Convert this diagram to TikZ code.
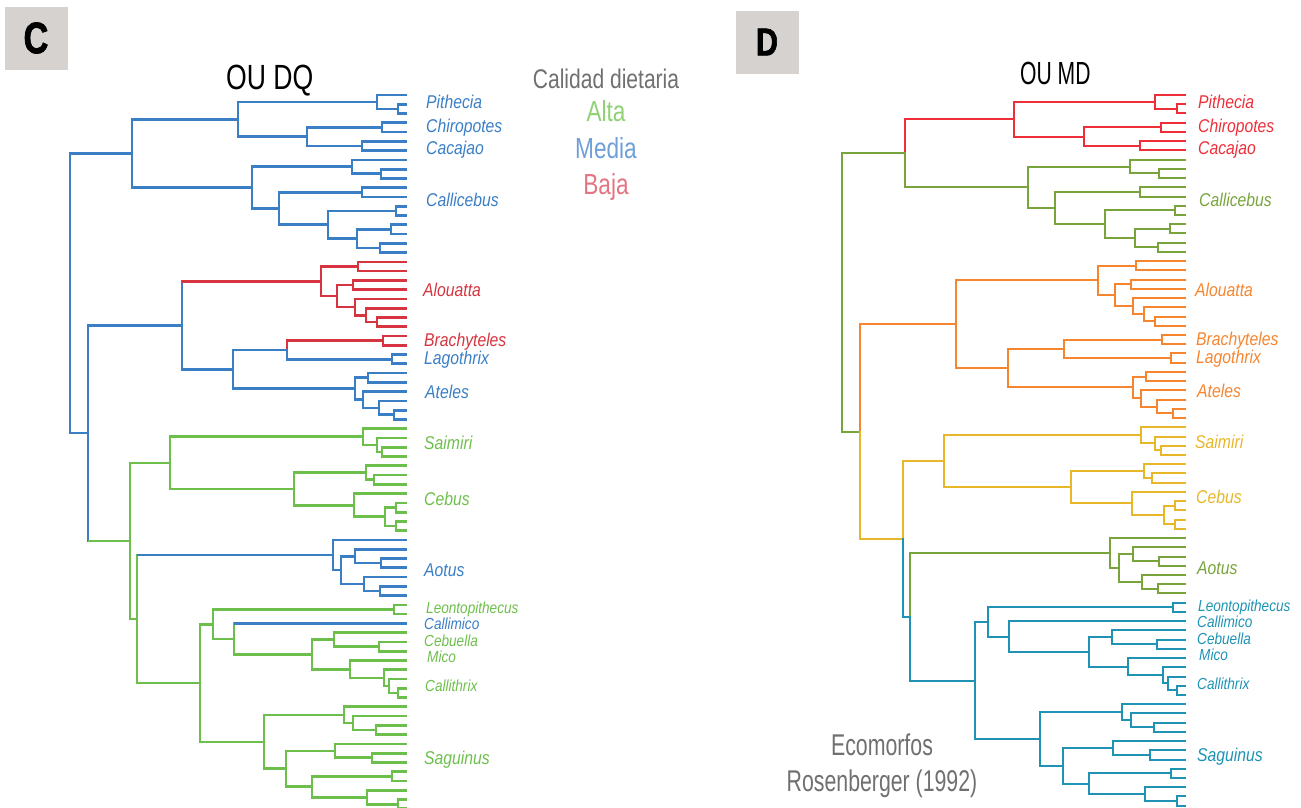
\documentclass[tikz,border=0pt]{standalone}
\usepackage{fontspec}
\setmainfont{Liberation Sans}
\newfontfamily\fTitle{Liberation Sans}[FakeStretch=0.76]
\newfontfamily\fTitleB{Liberation Sans}[FakeStretch=0.66]
\newfontfamily\fLeg{Liberation Sans}[FakeStretch=0.78]
\newfontfamily\fEco{Liberation Sans}[FakeStretch=0.71]
\newfontfamily\fLab{Liberation Sans}[FakeStretch=0.85]
\newfontfamily\fBox{Liberation Sans}[FakeStretch=0.78,FakeBold=1.6]
\definecolor{cB}{HTML}{3A7EC5}
\definecolor{cR}{HTML}{D6343F}
\definecolor{cG}{HTML}{6DBF4B}
\definecolor{dR}{HTML}{EE2F3A}
\definecolor{dG}{HTML}{78A43B}
\definecolor{dO}{HTML}{F6852F}
\definecolor{dY}{HTML}{E8B629}
\definecolor{dT}{HTML}{1E93B4}
\definecolor{lgAlta}{HTML}{8FD174}
\definecolor{lgMedia}{HTML}{6E9FD8}
\definecolor{lgBaja}{HTML}{E27582}
\definecolor{lgGray}{HTML}{707070}
\definecolor{boxGray}{HTML}{D5D2D0}

\newcommand\tpfx{C-}
\newcommand\trXO{70}
\newcommand\trXS{1}
\newcommand\trYS{9.27}
\newcommand\nd[3]{\coordinate (\tpfx#1) at ({\trXO+(#2-70)*\trXS},{95+(#3-1)*\trYS});}
% edge: vertical colour, horizontal colour, parent, child
\newcommand\ed[4]{%
  \draw[br,color=#1,line cap=rect] (\tpfx#3) -- (\tpfx#3 |- \tpfx#4);%
  \draw[br,color=#2] (\tpfx#3 |- \tpfx#4) -- (\tpfx#4);}
\newcommand\ee[3]{\ed{#1}{#1}{#2}{#3}}
\newcommand\pp[4]{\ee{#1}{#2}{#3}\ee{#1}{#2}{#4}}

\newcommand\drawtree{%
  \foreach \i in {1,...,78}{\nd{t\i}{407}{\i}}
  \nd{npith1}{398}{2.5}
  \nd{npith}{377}{1.75}
  \nd{nchir}{382}{4.5}
  \nd{ncaca}{362}{6.5}
  \nd{ncc}{307}{5.5}
  \nd{npc}{238}{3.625}
  \nd{ncalA}{381}{9.5}
  \nd{ncalB}{352}{8.75}
  \nd{ncalC}{362}{11.5}
  \nd{ncalD}{396}{13.5}
  \nd{ncalE}{391}{15.5}
  \nd{ncalF}{380}{17.5}
  \nd{ncalG}{357}{16.5}
  \nd{ncalH}{328}{15}
  \nd{ncalI}{279}{13.25}
  \nd{ncal}{252}{11}
  \nd{npithec}{132}{7.3125}
  \nd{nroot}{70}{22.394}
  \nd{nalA}{358}{19.5}
  \nd{nalB}{353}{21.5}
  \nd{nalC}{377}{25.5}
  \nd{nalD}{366}{24.75}
  \nd{nalE}{355}{23.875}
  \nd{nalF}{337}{22.6875}
  \nd{nal}{321}{21.09375}
  \nd{nbr}{383}{27.5}
  \nd{nla}{392}{29.5}
  \nd{nbl}{287}{28.5}
  \nd{natA}{368}{31.5}
  \nd{natB}{394}{35.5}
  \nd{natC}{379}{34.75}
  \nd{natD}{363}{33.875}
  \nd{nat}{355}{32.6875}
  \nd{nbla}{233}{30.59375}
  \nd{natel}{182}{25.84375}
  \nd{nrest}{88}{37.476}
  \nd{nsaA}{382}{39.5}
  \nd{nsaB}{377}{38.75}
  \nd{nsa}{363}{37.875}
  \nd{nceA}{374}{42.5}
  \nd{nceB}{366}{41.75}
  \nd{nceC}{396}{45.5}
  \nd{nceD}{396}{47.5}
  \nd{nceE}{385}{46.5}
  \nd{nceF}{354}{45.25}
  \nd{nce}{294}{43.5}
  \nd{nsc}{170}{40.6875}
  \nd{ncebid}{130}{49.1084}
  \nd{naoA}{381}{51.5}
  \nd{naoB}{355}{50.75}
  \nd{naoC}{380}{54.5}
  \nd{naoD}{364}{53.75}
  \nd{naoE}{341}{52.25}
  \nd{nao}{333}{50.625}
  \nd{naocal}{137}{57.5293}
  \nd{nle}{394}{56.5}
  \nd{ncbA}{379}{60.5}
  \nd{ncb}{334}{59.75}
  \nd{nmiA}{398}{65.5}
  \nd{nmiB}{389}{64.75}
  \nd{nmiC}{384}{63.875}
  \nd{nmi}{350}{62.9375}
  \nd{ncm}{312}{61.34375}
  \nd{nccB}{234}{59.671875}
  \nd{nlc}{213}{58.0859}
  \nd{nsgA}{376}{69.5}
  \nd{nsgB}{353}{68.75}
  \nd{nsgC}{344}{67.875}
  \nd{nsgD}{372}{72.5}
  \nd{nsgE}{335}{71.75}
  \nd{nsgG}{392}{74.5}
  \nd{nsgH}{398}{77.5}
  \nd{nsgI}{367}{76.75}
  \nd{nsgJ}{312}{75.625}
  \nd{nsgK}{286}{73.6875}
  \nd{nsg}{264}{70.78125}
  \nd{ncallitr}{200}{64.4336}
  % Pitheciinae
  \pp\kPC{npith1}{t2}{t3}
  \pp\kPC{npith}{t1}{npith1}
  \pp\kPC{nchir}{t4}{t5}
  \pp\kPC{ncaca}{t6}{t7}
  \pp\kPC{ncc}{nchir}{ncaca}
  \pp\kPC{npc}{npith}{ncc}
  % Callicebus
  \pp\kCal{ncalA}{t9}{t10}
  \pp\kCal{ncalB}{t8}{ncalA}
  \pp\kCal{ncalC}{t11}{t12}
  \pp\kCal{ncalD}{t13}{t14}
  \pp\kCal{ncalE}{t15}{t16}
  \pp\kCal{ncalF}{t17}{t18}
  \pp\kCal{ncalG}{ncalE}{ncalF}
  \pp\kCal{ncalH}{ncalD}{ncalG}
  \pp\kCal{ncalI}{ncalC}{ncalH}
  \pp\kCal{ncal}{ncalB}{ncalI}
  \ee\kPC{npithec}{npc}
  \ee\kCal{npithec}{ncal}
  \pp\kRoot{nroot}{npithec}{nrest}
  % Atelidae
  \pp\kAl{nalA}{t19}{t20}
  \pp\kAl{nalB}{t21}{t22}
  \pp\kAl{nalC}{t25}{t26}
  \pp\kAl{nalD}{t24}{nalC}
  \pp\kAl{nalE}{t23}{nalD}
  \pp\kAl{nalF}{nalB}{nalE}
  \pp\kAl{nal}{nalA}{nalF}
  \pp\kBr{nbr}{t27}{t28}
  \pp\kAt{nla}{t29}{t30}
  \ee\kBr{nbl}{nbr}
  \ee\kAt{nbl}{nla}
  \pp\kAt{natA}{t31}{t32}
  \pp\kAt{natB}{t35}{t36}
  \pp\kAt{natC}{t34}{natB}
  \pp\kAt{natD}{t33}{natC}
  \pp\kAt{nat}{natA}{natD}
  \pp\kAt{nbla}{nbl}{nat}
  \ed\kAlV\kAl{natel}{nal}
  \ee\kAt{natel}{nbla}
  \ee\kAt{nrest}{natel}
  \ed\kCebV\kCeb{nrest}{ncebid}
  % Saimiri, Cebus
  \pp\kSC{nsaA}{t39}{t40}
  \pp\kSC{nsaB}{t38}{nsaA}
  \pp\kSC{nsa}{t37}{nsaB}
  \pp\kSC{nceA}{t42}{t43}
  \pp\kSC{nceB}{t41}{nceA}
  \pp\kSC{nceC}{t45}{t46}
  \pp\kSC{nceD}{t47}{t48}
  \pp\kSC{nceE}{nceC}{nceD}
  \pp\kSC{nceF}{t44}{nceE}
  \pp\kSC{nce}{nceB}{nceF}
  \pp\kSC{nsc}{nsa}{nce}
  \ee\kSC{ncebid}{nsc}
  \ee\kAC{ncebid}{naocal}
  % Aotus
  \pp\kAo{naoA}{t51}{t52}
  \pp\kAo{naoB}{t50}{naoA}
  \pp\kAo{naoC}{t54}{t55}
  \pp\kAo{naoD}{t53}{naoC}
  \pp\kAo{naoE}{naoB}{naoD}
  \pp\kAo{nao}{t49}{naoE}
  \ed\kAoV\kAo{naocal}{nao}
  \ee\kCT{naocal}{ncallitr}
  % Callitrichidae
  \pp\kCT{nle}{t56}{t57}
  \pp\kCT{ncbA}{t60}{t61}
  \pp\kCT{ncb}{t59}{ncbA}
  \pp\kCT{nmiA}{t65}{t66}
  \pp\kCT{nmiB}{t64}{nmiA}
  \pp\kCT{nmiC}{t63}{nmiB}
  \pp\kCT{nmi}{t62}{nmiC}
  \pp\kCT{ncm}{ncb}{nmi}
  \ed\kCT\kCmH{nccB}{t58}
  \ee\kCT{nccB}{ncm}
  \pp\kCT{nlc}{nle}{nccB}
  \pp\kCT{nsgA}{t69}{t70}
  \pp\kCT{nsgB}{t68}{nsgA}
  \pp\kCT{nsgC}{t67}{nsgB}
  \pp\kCT{nsgD}{t72}{t73}
  \pp\kCT{nsgE}{t71}{nsgD}
  \pp\kCT{nsgG}{t74}{t75}
  \pp\kCT{nsgH}{t77}{t78}
  \pp\kCT{nsgI}{t76}{nsgH}
  \pp\kCT{nsgJ}{nsgG}{nsgI}
  \pp\kCT{nsgK}{nsgE}{nsgJ}
  \pp\kCT{nsg}{nsgC}{nsgK}
  \pp\kCT{ncallitr}{nlc}{nsg}
}

\tikzset{
  lab/.style={anchor=base west,inner sep=0pt,font=\fLab\itshape\fontsize{18.5}{20}\selectfont},
  labs/.style={anchor=base west,inner sep=0pt,font=\fLab\itshape\fontsize{16}{18}\selectfont},
  panelbox/.style={fill=boxGray,minimum width=63pt,minimum height=63pt,inner sep=0pt,text=black},
}

\begin{document}
\begin{tikzpicture}[x=1pt,y=-1pt]
\useasboundingbox (0,0) rectangle (1301,807);

% ---------- Panel C ----------
\node[panelbox,font=\fBox\bfseries\fontsize{44}{44}\selectfont] (boxC) at (36,38) {C};
\node[anchor=base west,inner sep=0pt,font=\fTitle\fontsize{35}{36}\selectfont] (titC) at (226,89) {OU DQ};
\node[anchor=base,inner sep=0pt,text=lgGray,font=\fLeg\fontsize{27}{28}\selectfont] (legT) at (606,88) {Calidad dietaria};
\node[anchor=base,inner sep=0pt,text=lgAlta,font=\fLeg\fontsize{29}{30}\selectfont] (legA) at (606,121) {Alta};
\node[anchor=base,inner sep=0pt,text=lgMedia,font=\fLeg\fontsize{29}{30}\selectfont] (legM) at (606,158) {Media};
\node[anchor=base,inner sep=0pt,text=lgBaja,font=\fLeg\fontsize{29}{30}\selectfont] (legB) at (606,194) {Baja};

\begin{scope}[br/.style={line width=2.7pt}]
  \renewcommand\tpfx{C-}\renewcommand\trXO{70}\renewcommand\trXS{1}\renewcommand\trYS{9.27}
  \def\kPC{cB}\def\kCal{cB}\def\kRoot{cB}\def\kAlV{cB}\def\kAl{cR}\def\kBr{cR}\def\kAt{cB}
  \def\kCebV{cB}\def\kCeb{cG}\def\kSC{cG}\def\kAC{cG}\def\kAoV{cG}\def\kAo{cB}\def\kCT{cG}\def\kCmH{cB}
  \drawtree
\end{scope}

\node[lab,text=cB] (cPit) at (426,108.4) {Pithecia};
\node[lab,text=cB] (cChi) at (426,132.9) {Chiropotes};
\node[lab,text=cB] (cCac) at (426,154.3) {Cacajao};
\node[lab,text=cB] (cCal) at (426,206.5) {Callicebus};
\node[lab,text=cR] (cAlo) at (423,296.9) {Alouatta};
\node[lab,text=cR] (cBra) at (424,346.8) {Brachyteles};
\node[lab,text=cB] (cLag) at (424,364.5) {Lagothrix};
\node[lab,text=cB] (cAte) at (425,398.6) {Ateles};
\node[lab,text=cG] (cSai) at (424,449.8) {Saimiri};
\node[lab,text=cG] (cCeb) at (424,505.1) {Cebus};
\node[lab,text=cB] (cAot) at (424,576.1) {Aotus};
\node[labs,text=cG] (cLeo) at (426,613.9) {Leontopithecus};
\node[labs,text=cB] (cCmi) at (424,629.6) {Callimico};
\node[labs,text=cG] (cCbu) at (424,646.4) {Cebuella};
\node[labs,text=cG] (cMic) at (427,662.4) {Mico};
\node[labs,text=cG] (cCth) at (425,691.9) {Callithrix};
\node[lab,text=cG] (cSag) at (424,764.6) {Saguinus};

% ---------- Panel D ----------
\node[panelbox,font=\fBox\bfseries\fontsize{39}{39}\selectfont] (boxD) at (767,42) {D};
\node[anchor=base west,inner sep=0pt,font=\fTitleB\fontsize{32}{33}\selectfont] (titD) at (1020,84) {OU MD};
\node[anchor=base,inner sep=0pt,text=lgGray,font=\fEco\fontsize{30}{31}\selectfont] (eco1) at (882,755) {Ecomorfos};
\node[anchor=base,inner sep=0pt,text=lgGray,font=\fEco\fontsize{30}{31}\selectfont] (eco2) at (882,791) {Rosenberger (1992)};

\begin{scope}[br/.style={line width=2pt}]
  \renewcommand\tpfx{D-}\renewcommand\trXO{842}\renewcommand\trXS{1.0208}\renewcommand\trYS{9.23}
  \def\kPC{dR}\def\kCal{dG}\def\kRoot{dG}\def\kAlV{dO}\def\kAl{dO}\def\kBr{dO}\def\kAt{dO}
  \def\kCebV{dY}\def\kCeb{dY}\def\kSC{dY}\def\kAC{dT}\def\kAoV{dG}\def\kAo{dG}\def\kCT{dT}\def\kCmH{dT}
  \drawtree
\end{scope}

\node[lab,text=dR] (dPit) at (1198,108.3) {Pithecia};
\node[lab,text=dR] (dChi) at (1198,132.7) {Chiropotes};
\node[lab,text=dR] (dCac) at (1198,154) {Cacajao};
\node[lab,text=dG] (dCal) at (1199,206) {Callicebus};
\node[lab,text=dO] (dAlo) at (1195,296) {Alouatta};
\node[lab,text=dO] (dBra) at (1196,345.7) {Brachyteles};
\node[lab,text=dO] (dLag) at (1196,363.3) {Lagothrix};
\node[lab,text=dO] (dAte) at (1197,397.3) {Ateles};
\node[lab,text=dY] (dSai) at (1195,448.3) {Saimiri};
\node[lab,text=dY] (dCeb) at (1196,503.3) {Cebus};
\node[lab,text=dG] (dAot) at (1197,574) {Aotus};
\node[labs,text=dT] (dLeo) at (1198,611.7) {Leontopithecus};
\node[labs,text=dT] (dCmi) at (1197,627.3) {Callimico};
\node[labs,text=dT] (dCbu) at (1197,644) {Cebuella};
\node[labs,text=dT] (dMic) at (1199,660) {Mico};
\node[labs,text=dT] (dCth) at (1197,689.3) {Callithrix};
\node[lab,text=dT] (dSag) at (1197,761.7) {Saguinus};
\end{tikzpicture}
\end{document}
